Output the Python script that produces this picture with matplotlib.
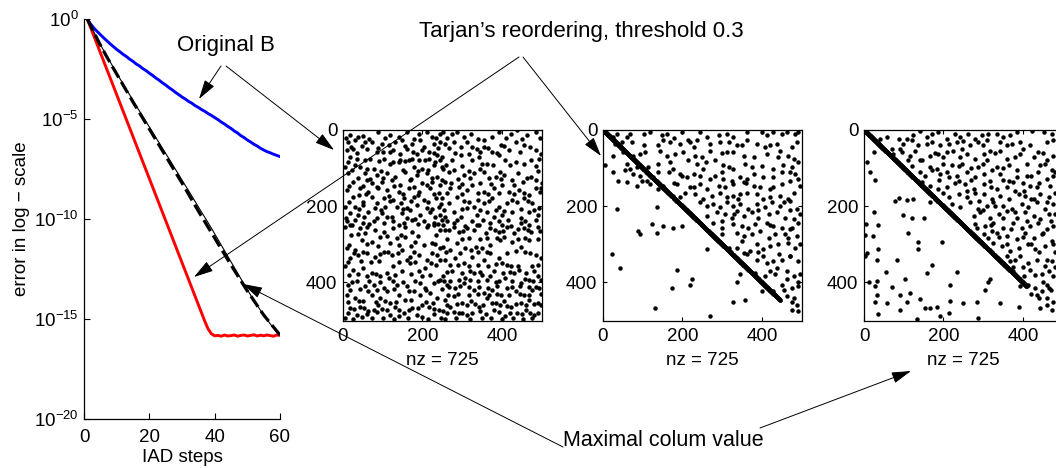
import numpy as np
import matplotlib
matplotlib.use('Agg')
import matplotlib.pyplot as plt
from matplotlib.patches import FancyArrowPatch

plt.rcParams['font.family'] = ['Liberation Sans', 'DejaVu Sans']
plt.rcParams['mathtext.fontset'] = 'custom'
plt.rcParams['mathtext.rm'] = 'Liberation Sans'
plt.rcParams['mathtext.it'] = 'Liberation Sans:italic'

# ---------------- data: convergence (log10 of error) ----------------
steps = list(range(1, 61))
blue_log = [0, -0.25, -0.45, -0.62, -0.78, -0.94, -1.09, -1.24, -1.38, -1.52,
            -1.64, -1.77, -1.88, -2.01, -2.12, -2.25, -2.35, -2.48, -2.58, -2.71,
            -2.82, -2.95, -3.06, -3.19, -3.30, -3.43, -3.54, -3.67, -3.78, -3.90,
            -4.00, -4.12, -4.21, -4.33, -4.42, -4.53, -4.62, -4.73, -4.82, -4.93,
            -5.03, -5.15, -5.25, -5.37, -5.47, -5.60, -5.70, -5.83, -5.93, -6.05,
            -6.15, -6.26, -6.35, -6.46, -6.55, -6.63, -6.69, -6.76, -6.82, -6.88]
red_log = [0, -0.42, -0.84, -1.26, -1.68, -2.10, -2.52, -2.94, -3.36, -3.78,
           -4.20, -4.62, -5.04, -5.46, -5.88, -6.30, -6.72, -7.14, -7.56, -7.98,
           -8.40, -8.82, -9.24, -9.66, -10.08, -10.50, -10.92, -11.34, -11.76, -12.18,
           -12.60, -13.02, -13.44, -13.86, -14.28, -14.70, -15.12, -15.50, -15.74, -15.84,
           -15.82, -15.86, -15.80, -15.85, -15.83, -15.80, -15.86, -15.82, -15.80, -15.85,
           -15.82, -15.79, -15.85, -15.81, -15.84, -15.80, -15.83, -15.86, -15.80, -15.82]
dash_log = [0, -0.33, -0.66, -0.98, -1.30, -1.60, -1.90, -2.18, -2.47, -2.75,
            -3.03, -3.31, -3.59, -3.87, -4.15, -4.42, -4.69, -4.96, -5.23, -5.50,
            -5.77, -6.04, -6.31, -6.58, -6.85, -7.12, -7.39, -7.66, -7.93, -8.20,
            -8.48, -8.76, -9.04, -9.32, -9.60, -9.87, -10.14, -10.41, -10.68, -10.95,
            -11.22, -11.49, -11.76, -12.03, -12.30, -12.56, -12.82, -13.08, -13.34, -13.60,
            -13.84, -14.08, -14.32, -14.56, -14.80, -15.00, -15.20, -15.40, -15.60, -15.80]
thin_log = [0, -0.32, -0.64, -0.96, -1.27, -1.57, -1.86, -2.14, -2.42, -2.70,
            -2.98, -3.26, -3.53, -3.80, -4.07, -4.34, -4.61, -4.88, -5.14, -5.40,
            -5.66, -5.93, -6.19, -6.46, -6.72, -6.98, -7.25, -7.52, -7.78, -8.05,
            -8.32, -8.58, -8.85, -9.12, -9.39, -9.66, -9.92, -10.19, -10.46, -10.74,
            -11.02, -11.30, -11.58, -11.86, -12.14, -12.42, -12.70, -12.98, -13.26, -13.54,
            -13.80, -14.06, -14.31, -14.56, -14.80, -15.02, -15.24, -15.45, -15.64, -15.80]

x_ticks = [0, 20, 40, 60]
y_ticks = [1e0, 1e-5, 1e-10, 1e-15, 1e-20]
spy_ticks = [0, 200, 400]
nz_label = 'nz = 725'

# ---------------- data: sparsity patterns (col, row) ----------------
orig_pts = [
 (18,14),(39,18),(51,17),(89,5),(119,14),(140,18),(161,5),(191,10),(212,5),(224,18),(245,10),
 (13,31),(30,27),(56,31),(72,31),(98,36),(115,40),(132,31),(148,27),(174,36),(195,27),(228,36),(245,31),
 (9,53),(26,49),(60,49),(85,57),(119,57),(127,53),(161,49),(186,62),(199,53),(216,57),(237,66),
 (18,70),(35,75),(56,79),(68,75),(102,75),(144,79),(165,79),(174,75),(191,79),(216,75),(245,79),
 (5,97),(30,92),(43,97),(77,101),(119,88),(140,84),(178,97),(199,101),(228,92),(250,97),
 (13,114),(56,114),(85,118),(110,114),(132,123),(157,110),(186,118),(212,114),(237,123),
 (26,136),(60,131),(72,140),(98,136),(123,131),(144,144),(169,131),(199,140),(224,136),(245,144),
 (9,157),(43,153),(64,162),(89,153),(110,157),(140,162),(165,153),(191,162),(220,153),(241,166),
 (26,175),(72,175),(102,179),(127,184),(153,179),(178,175),(203,184),(233,179),
 (5,201),(30,201),(51,197),(81,205),(106,201),(136,201),(161,205),(186,197),(212,205),(241,201),
 (18,218),(39,223),(64,214),(98,218),(123,227),(148,218),(169,210),(195,223),(220,214),(245,223),
 (9,240),(30,236),(51,244),(77,240),(102,244),(127,240),(153,244),(174,236),(203,240),(228,244),(250,236),
 (8,21),(65,24),(105,20),(178,23),(233,22),
 (20,44),(48,42),(88,46),(157,43),(205,45),(238,47),
 (35,61),(100,59),(143,62),(175,58),(228,60),
 (12,83),(90,81),(125,84),(155,82),(206,80),(232,85),
 (22,106),(60,103),(95,107),(150,104),(188,108),(215,105),
 (38,126),(68,129),(100,125),(172,128),(225,127),(248,130),
 (15,148),(50,146),(85,150),(128,147),(180,149),(212,145),
 (40,170),(58,168),(115,172),(150,169),(190,171),(228,167),
 (16,190),(50,188),(85,192),(118,187),(145,191),(172,186),(215,189),(247,193),
 (40,207),(95,209),(150,206),(225,208),
 (8,230),(52,229),(86,232),(112,228),(160,231),(182,233),(232,229),
 (18,248),(65,246),(140,249),(188,247),(215,250),(240,246),
 (253,5),(275,10),(287,5),(304,18),(321,10),(355,27),(376,18),(393,5),(422,10),(439,1),(464,14),(485,5),
 (258,36),(279,31),(296,44),(312,31),(338,49),(355,44),(376,57),(397,40),(418,53),(435,31),(456,40),(485,53),
 (249,70),(275,79),(296,66),(325,79),(342,70),(363,88),(393,66),(409,79),(435,84),(456,88),(473,79),(494,75),
 (253,101),(279,105),(304,118),(329,114),(346,101),(367,127),(384,123),(405,118),(426,131),(452,136),(473,123),(498,153),
 (258,136),(270,153),(291,149),(312,157),(325,144),(355,162),(380,153),(401,144),(418,162),(443,157),(468,171),(485,153),
 (249,179),(266,192),(287,175),(317,188),(329,201),(355,192),(376,179),(393,201),(414,192),(439,188),(456,179),(477,192),(494,205),
 (258,227),(279,214),(296,227),(312,205),(338,223),(363,214),(380,227),(401,223),(426,214),(447,231),(468,214),(490,223),
 (253,249),(279,244),(308,253),(342,249),(371,244),(401,249),(422,253),(447,244),(468,249),
 (262,22),(340,23),(410,21),(450,24),(497,20),
 (266,46),(325,44),(366,47),(405,43),(470,45),
 (283,60),(317,62),(345,59),(388,61),(445,58),(498,63),
 (260,92),(300,94),(350,90),(378,93),(420,91),(485,95),
 (268,110),(318,108),(356,111),(395,109),(440,112),(490,107),
 (290,128),(320,126),(398,129),(462,127),(487,130),
 (272,140),(300,142),(345,139),(372,141),(430,143),(500,138),
 (262,166),(300,168),(340,165),(365,167),(392,164),(430,169),(456,166),(495,163),
 (305,185),(340,183),(367,186),(425,184),(465,187),
 (255,210),(300,208),(345,211),(385,209),(405,212),(448,207),(480,210),
 (262,238),(287,236),(325,239),(352,237),(392,240),(415,235),(458,238),(485,236),
 (5,254),(22,249),(43,258),(60,254),(81,262),(102,267),(127,258),(157,254),(174,267),(212,254),(228,249),(245,262),
 (9,310),(30,315),(47,289),(56,271),(72,293),(94,280),(119,297),(136,284),(157,280),(182,293),(203,302),(224,297),(245,310),
 (18,336),(39,328),(60,323),(81,332),(102,319),(123,328),(148,315),(169,332),(191,328),(212,341),(237,328),
 (5,358),(26,367),(51,362),(72,376),(94,384),(110,376),(127,358),(148,371),(169,349),(191,371),(207,362),(233,354),(245,341),
 (13,406),(35,397),(56,410),(77,406),(102,415),(115,389),(136,406),(161,410),(182,397),(207,415),(228,402),(245,393),
 (9,432),(30,441),(51,449),(72,432),(94,441),(119,454),(140,432),(157,445),(178,423),(195,432),(220,428),(237,441),
 (18,467),(43,463),(64,476),(89,458),(110,471),(132,463),(153,480),(174,467),(199,458),(216,463),(241,471),
 (13,480),(35,484),(60,482),(85,478),(119,484),(140,489),(186,484),(228,482),
 (20,276),(38,274),(110,277),(145,275),(190,278),(235,276),
 (15,302),(60,300),(88,304),(140,301),(170,303),(232,299),
 (28,322),(50,320),(92,324),(113,321),(138,323),(180,319),(225,322),
 (12,345),(45,343),(70,347),(90,344),(140,346),(160,342),(182,345),(222,348),
 (16,380),(38,378),(60,382),(83,379),(130,381),(172,377),(200,383),(220,380),
 (22,398),(66,396),(92,400),(125,397),(150,399),(195,401),(238,396),
 (18,420),(43,418),(62,422),(85,419),(110,421),(128,417),(165,423),(208,420),(248,418),
 (12,450),(40,448),(82,452),(105,449),(133,451),(170,447),(208,450),(226,453),
 (28,470),(52,468),(78,472),(98,469),(142,473),(165,471),(188,468),(230,470),
 (5,493),(25,495),(48,491),(72,494),(100,492),(128,496),(163,493),(200,490),(215,495),(246,492),
 (258,262),(279,254),(291,267),(312,258),(338,249),(359,271),(371,258),(393,267),(414,254),(430,271),(456,258),(473,267),(490,254),
 (253,306),(270,315),(287,297),(308,310),(321,315),(334,306),(350,310),(371,302),(388,284),(405,280),(426,293),(447,306),(468,289),(485,328),(498,336),
 (258,341),(283,336),(304,349),(325,332),(355,341),(371,323),(393,336),(401,349),(422,358),(443,367),(460,376),(477,358),
 (253,384),(275,371),(291,393),(308,389),(329,376),(350,380),(371,384),(393,397),(409,389),(430,376),(447,402),(468,393),(490,384),
 (262,406),(283,415),(304,402),(329,419),(355,428),(376,419),(397,432),(414,415),(435,423),(456,432),(477,419),(494,415),
 (258,445),(279,436),(300,454),(321,449),(342,463),(363,441),(384,454),(405,449),(422,463),(447,454),(468,445),(490,454),
 (253,476),(270,463),(291,480),(312,484),(346,476),(380,471),(409,489),(439,480),(460,471),(481,484),
 (268,262),(302,264),(330,261),(382,263),(404,265),(440,260),(465,262),(497,264),
 (262,285),(300,287),(318,283),(345,286),(362,284),(395,288),(440,285),(458,282),(490,286),
 (260,320),(295,322),(340,319),(362,321),(412,323),(436,318),(458,320),(472,322),
 (270,355),(290,353),(318,357),(340,354),(365,356),(385,352),(412,355),(440,358),(492,354),
 (262,372),(300,374),(320,370),(345,373),(380,371),(404,375),(420,372),(482,370),
 (255,395),(270,397),(320,393),(340,396),(362,394),(384,398),(425,395),(458,392),(478,396),(498,394),
 (268,412),(295,410),(318,413),(342,411),(365,414),(388,409),(425,412),(446,410),(468,413),(486,411),
 (265,432),(290,430),(316,433),(340,431),(368,434),(388,429),(418,432),(445,430),(468,433),(498,431),
 (262,458),(288,456),(312,459),(332,457),(352,460),(375,455),(395,458),(412,461),(436,457),(460,459),(480,456),(498,458),
 (262,480),(280,478),(300,481),(325,479),(360,482),(392,477),(420,480),(450,483),(470,479),(492,481),
 (258,495),(285,493),(320,496),(350,494),(372,492),(400,495),(428,493),(452,496),(476,494),
]

tarjan_diag = (0, 446)
tarjan_pts = [
 (26,18),(34,10),(60,18),(68,10),(102,10),(118,5),(148,14),(160,10),(198,5),(215,27),(244,5),(261,18),
 (291,14),(312,10),(328,18),(362,5),(400,5),(412,14),(429,5),(450,10),(463,5),(484,10),(492,5),
 (30,36),(47,32),(72,32),(102,40),(139,40),(152,27),(169,32),(194,36),(219,32),(236,27),(270,36),(295,32),
 (316,32),(337,40),(362,27),(387,36),(408,45),(421,40),(438,36),(475,45),(488,32),
 (26,67),(51,58),(76,67),(93,62),(106,58),(144,54),(160,67),(181,62),(202,58),(232,67),(249,71),(270,54),
 (312,58),(328,58),(354,67),(379,71),(412,62),(446,54),(467,67),(480,76),
 (5,93),(60,89),(68,102),(85,98),(114,98),(139,89),(169,84),(177,102),(215,80),(236,89),(253,102),(282,80),
 (303,93),(316,98),(328,102),(358,89),(375,98),(429,102),(454,93),(475,98),(492,84),
 (26,111),(55,106),(76,115),(93,120),(110,133),(127,124),(139,111),(165,111),(194,115),(211,124),(228,115),
 (244,120),(270,128),(282,120),(303,128),(324,133),(345,124),(362,128),(379,115),(404,124),(429,124),(450,111),(484,115),(492,128),
 (39,133),(60,137),(85,146),(97,133),(118,142),(152,146),(186,142),(219,150),(244,142),(261,155),(291,146),
 (307,150),(328,142),(354,137),(379,146),(396,150),(429,150),(450,142),(471,133),(496,146),
 (139,155),(177,172),(194,177),(207,164),(232,168),(253,181),(274,172),(295,164),(312,177),(328,172),(345,168),
 (362,164),(387,168),(404,181),(421,177),(446,172),(467,181),(480,164),
 (34,208),(135,203),(244,190),(261,199),(278,194),(295,203),(312,190),(328,199),(345,194),(366,208),(387,194),
 (408,203),(425,190),(446,199),(471,186),(488,208),
 (261,225),(286,216),(307,221),(324,230),(337,212),(354,225),(375,216),(391,230),(417,221),(438,216),(459,230),(480,234),(496,221),
 (123,247),(152,252),(198,252),(177,256),(278,243),(299,256),(328,247),(349,252),(366,256),(383,247),(412,243),
 (429,252),(450,256),(475,256),(492,243),
 (89,265),(93,274),(135,269),(299,274),(337,269),(354,278),(375,274),(396,265),(417,282),(433,274),(459,274),(467,282),(488,278),
 (261,313),(316,309),(337,309),(354,322),(370,318),(387,300),(404,313),(421,304),(442,326),(467,296),(484,309),(496,300),
 (22,325),(362,326),(387,340),(404,331),(412,348),(429,344),(450,340),(471,331),(492,344),(438,362),
 (43,362),(186,366),(345,379),(383,375),(408,384),(433,379),(463,370),(480,384),(496,379),(463,392),
 (223,392),(219,406),(337,399),(173,414),(400,423),(450,406),(475,414),(492,410),(429,423),
 (328,450),(358,445),(463,436),(475,450),(488,458),(492,476),(131,467),(270,489),(475,472),
 (180,20),(230,45),(300,60),(350,40),(400,95),(440,70),(470,110),(360,140),(420,155),(300,110),
 (260,85),(390,210),(455,190),(330,220),(300,240),(420,250),(470,260),(350,290),(390,320),(440,300),
 (470,330),(420,370),(455,420),(480,440),(490,400),(200,120),(230,150),(180,140),(340,180),(470,210),
]

maxcol_diag = (0, 410)
maxcol_pts = [
 (40,23),(57,18),(87,23),(108,23),(124,14),(141,3),(158,18),(171,10),(187,5),(208,23),(229,10),(242,18),
 (263,10),(280,23),(297,14),(313,10),(334,10),(351,18),(368,14),(385,5),(423,3),(452,5),(473,10),
 (70,49),(91,49),(99,36),(120,27),(137,40),(158,36),(171,32),(192,40),(213,36),(234,32),(246,49),(267,40),
 (288,32),(309,27),(343,32),(360,40),(372,36),(393,32),(418,40),(439,58),(460,32),(477,27),
 (24,58),(74,62),(95,58),(116,67),(129,54),(145,80),(166,67),(187,62),(208,58),(225,54),(242,71),(259,62),
 (280,76),(301,62),(318,54),(343,54),(360,76),(393,62),(427,71),(460,80),(477,67),
 (8,84),(112,80),(141,80),(166,98),(183,102),(200,89),(221,93),(246,89),(288,98),(309,80),(334,98),(364,93),
 (385,106),(410,89),(444,93),(456,89),(473,106),
 (15,111),(154,120),(171,106),(192,115),(213,124),(234,120),(259,111),(280,124),(301,115),(322,106),(343,115),
 (364,133),(385,124),(410,120),(439,111),(460,128),(477,120),
 (28,131),(145,137),(166,146),(187,155),(208,150),(238,133),(255,142),(276,155),(301,142),(318,133),(334,155),
 (360,150),(376,137),(402,159),(418,146),(435,150),(469,146),
 (200,164),(213,177),(238,168),(259,177),(280,164),(301,168),(322,181),(343,172),(364,181),(389,168),(406,172),
 (427,181),(444,168),(465,177),(481,164),(78,187),(89,179),(109,184),(123,181),
 (24,214),(166,190),(221,194),(242,203),(267,190),(288,208),(309,199),(326,190),(351,199),(372,208),(397,194),
 (414,203),(435,190),(456,208),(477,194),
 (97,223),(120,231),(151,230),(276,225),(292,216),(318,230),(339,221),(360,212),(385,230),(406,216),(427,225),(444,234),(465,221),
 (5,247),(36,249),(280,247),(284,256),(305,252),(326,243),(351,256),(376,243),(397,256),(418,252),(439,243),(460,260),(477,252),
 (112,269),(22,278),(3,275),(301,274),(313,282),(334,269),(360,278),(385,287),(406,269),(427,282),(448,274),(473,291),(322,265),
 (36,311),(137,293),(196,293),(137,313),(7,322),(3,331),(326,296),(347,304),(368,318),(389,309),(414,300),(431,313),(456,304),(477,300),
 (32,342),(82,340),(171,355),(368,344),(393,331),(414,348),(435,340),(456,357),(473,344),(360,331),
 (55,373),(158,375),(234,372),(376,370),(402,384),(418,366),(448,379),(465,370),(477,384),(13,399),(32,395),
 (103,390),(313,399),(318,390),(376,360),
 (28,410),(70,413),(217,407),(393,410),(414,406),(431,414),(448,423),(465,414),(460,406),(116,428),(91,432),
 (32,432),(305,419),(28,451),(57,454),(108,450),(141,443),(166,467),(183,463),(217,448),(250,454),(284,450),
 (343,454),(435,432),(460,441),(477,450),(36,483),(91,472),(154,467),(213,480),(192,489),(133,495),(288,492),
 (389,463),(444,467),(473,472),
 (200,70),(240,95),(270,130),(300,90),(320,150),(350,130),(380,160),(400,140),(420,180),(260,160),
 (290,185),(330,200),(350,230),(380,215),(410,240),(300,210),(320,250),(340,280),(370,260),(400,280),
 (420,300),(440,320),(360,300),(380,340),(400,360),(430,380),(450,400),(470,420),(420,120),(440,140),
 (460,190),(480,220),(470,240),(450,270),(480,320),(460,340),(480,360),(420,430),(440,440),(460,460),
 (380,70),(330,60),(250,30),(180,60),(140,110),(120,95),(230,140),(270,100),(210,110),(190,130),
 (300,40),(400,50),(450,60),(480,110),(350,100),
]

# ---------------- figure ----------------
W, H = 1056, 468
fig = plt.figure(figsize=(W / 100, H / 100), dpi=100)
fig.patch.set_facecolor('white')


def px_axes(l, t, r, b):
    return fig.add_axes([l / W, 1 - b / H, (r - l) / W, (b - t) / H])


def fxy(x, y):
    return (x / W, 1 - y / H)


TICK_FS = 13.5

# left convergence plot
ax = px_axes(84, 19, 280, 419)
s = np.array(steps)
ax.semilogy(s, 10 ** np.array(blue_log), color='#0000ff', lw=2.1, solid_capstyle='round')
ax.semilogy(s, 10 ** np.array(red_log), color='#ff0000', lw=2.1, solid_capstyle='round')
ax.semilogy(s, 10 ** np.array(dash_log), color='black', lw=2.3, linestyle=(0, (4, 1.6)))
ax.semilogy(s, 10 ** np.array(thin_log), color='black', lw=0.8)
ax.set_xlim(0, 60)
ax.set_ylim(1e-20, 1e0)
ax.set_xticks(x_ticks)
ax.set_yticks(y_ticks)
ax.yaxis.set_minor_locator(matplotlib.ticker.NullLocator())
ax.tick_params(direction='in', length=4, width=0.8, labelsize=TICK_FS)
ax.tick_params(axis='x', pad=7)
ax.tick_params(axis='y', pad=4)
for side in ('top', 'right'):
    ax.spines[side].set_visible(False)
for side in ('left', 'bottom'):
    ax.spines[side].set_linewidth(0.9)
ax.set_xlabel('IAD steps', fontsize=TICK_FS, labelpad=2)
ax.set_ylabel('error in log \u2212 scale', fontsize=TICK_FS, labelpad=3)

# spy panels
panels = [
    (343, orig_pts, None),
    (603, tarjan_pts, tarjan_diag),
    (864, maxcol_pts, maxcol_diag),
]
for left, pts, diag in panels:
    a = px_axes(left, 130, left + 199, 321)
    arr = np.array(pts, dtype=float)
    a.plot(arr[:, 0], arr[:, 1], 'o', color='black', ms=3.2, mew=0)
    if diag is not None:
        d = np.arange(diag[0], diag[1] + 1)
        a.plot(d, d, 'o', color='black', ms=3.2, mew=0)
    a.set_xlim(0, 501)
    a.set_ylim(501, 0)
    a.set_xticks(spy_ticks)
    a.set_yticks(spy_ticks)
    a.tick_params(direction='in', length=3, width=0.8, labelsize=TICK_FS,
                  top=True, right=True)
    a.tick_params(axis='x', pad=5)
    a.tick_params(axis='y', pad=4)
    for sp in a.spines.values():
        sp.set_linewidth(0.9)
    a.set_xlabel(nz_label, fontsize=TICK_FS, labelpad=5)

# annotations
fig.text(*fxy(226, 46), 'Original B', ha='center', va='center', fontsize=16)
fig.text(*fxy(581, 31), 'Tarjan\u2019s reordering, threshold 0.3', ha='center', va='center', fontsize=16)
fig.text(*fxy(663, 441), 'Maximal colum value', ha='center', va='center', fontsize=15.5)

arrows = [
    ((221, 66), (199, 99)),
    ((226, 66), (334, 150)),
    ((519, 57), (194, 277)),
    ((523, 57), (601, 156)),
    ((563, 447), (243, 284)),
    ((760, 428), (911, 371)),
]
for tail, head in arrows:
    arr = FancyArrowPatch(fxy(*tail), fxy(*head), transform=fig.transFigure,
                          arrowstyle='-|>,head_length=1.2,head_width=0.35',
                          mutation_scale=10, lw=0.7, color='black',
                          shrinkA=0, shrinkB=0)
    fig.add_artist(arr)

fig.savefig('out.png', dpi=100)
